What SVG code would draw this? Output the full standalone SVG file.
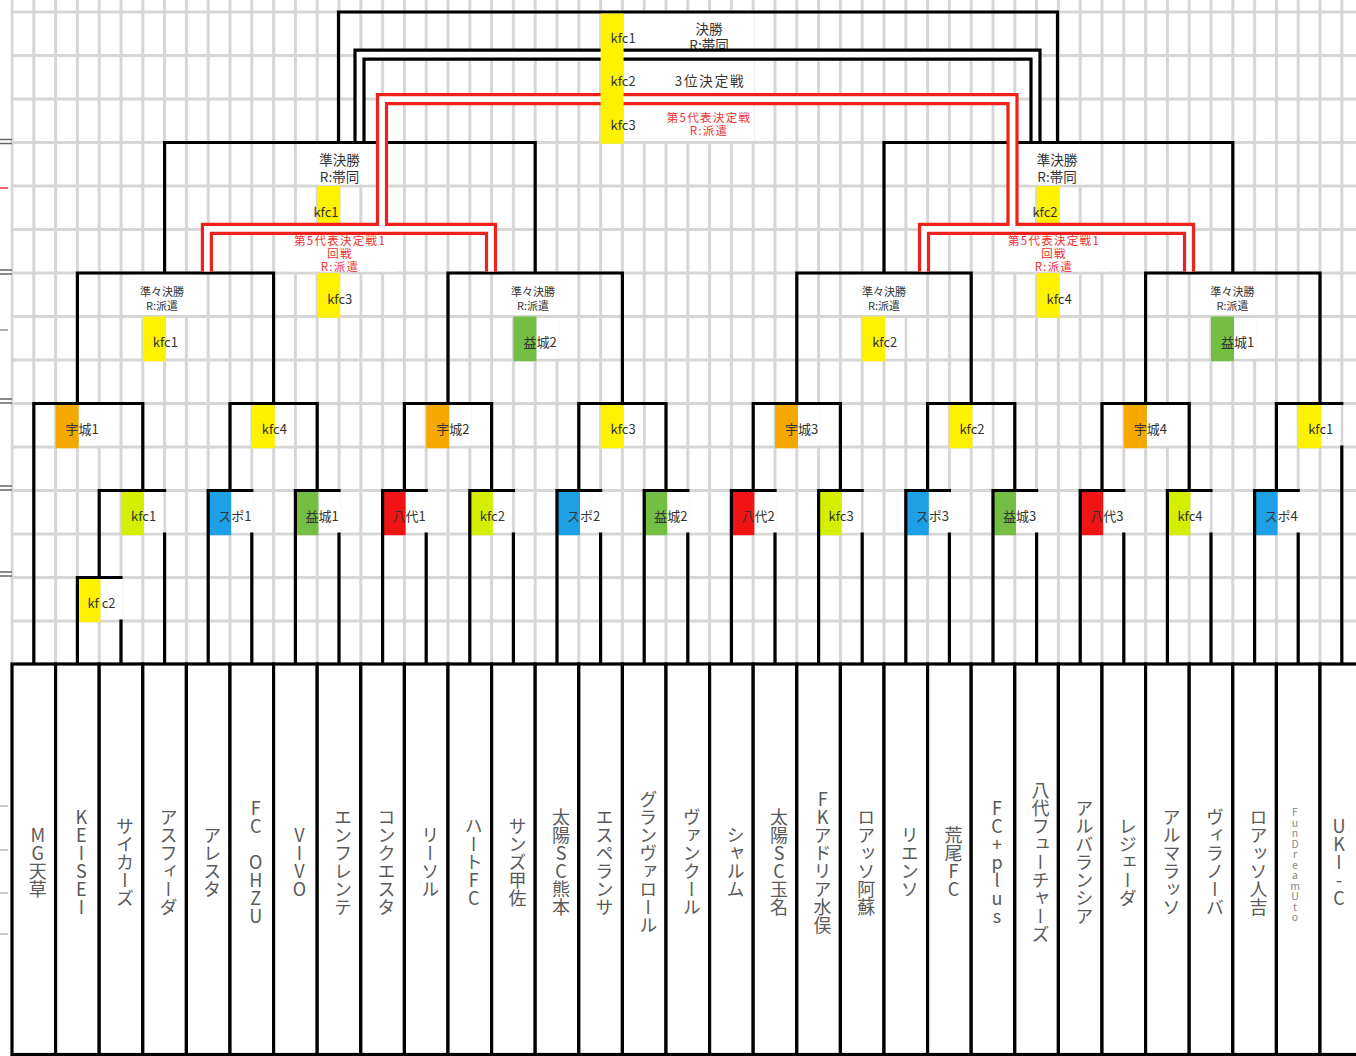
<svg xmlns="http://www.w3.org/2000/svg" width="1356" height="1056" viewBox="0 0 1356 1056">
<defs>
<style>
.bk{fill:none;stroke:#000;stroke-width:3.2;stroke-linecap:square;stroke-linejoin:miter}
.dbk{fill:none;stroke:#000;stroke-width:12.2;stroke-linejoin:miter}
.drd{fill:none;stroke:#f0201a;stroke-width:12.2;stroke-linejoin:miter}
.dwh{fill:none;stroke:#fff;stroke-width:5.8;stroke-linejoin:miter}
.wb{fill:#fff}
.lb{font-family:"Noto Sans CJK JP","Noto Sans",sans-serif;font-size:13px;fill:#333}
.hd{font-family:"Noto Sans CJK JP","Noto Sans",sans-serif;font-size:13.5px;fill:#333;text-anchor:middle}
.qf{font-family:"Noto Sans CJK JP","Noto Sans",sans-serif;font-size:11px;fill:#333;text-anchor:middle}
.rt{font-family:"Noto Sans CJK JP","Noto Sans",sans-serif;font-size:11.5px;fill:#f03030;text-anchor:middle;letter-spacing:1.3px}
.y{fill:#fff200}.lm{fill:#d4f000}.o{fill:#f5a900}.bl{fill:#1ea0e6}.gr{fill:#74bf43}.rb{fill:#f01414}
.tb{fill:#fff;stroke:#000;stroke-width:3.2}
.tn{font-family:"Noto Sans CJK JP","Noto Sans",sans-serif;font-size:18px;fill:#5a5a5a;writing-mode:vertical-rl;text-orientation:upright;text-anchor:middle}
.ts{font-size:10.5px;fill:#888}
</style>
<pattern id="grid" x="10.5" y="10.5" width="21.8" height="43.5" patternUnits="userSpaceOnUse">
<rect width="21.8" height="43.5" fill="#fff"/>
<rect width="3" height="43.5" fill="#d6d6d6"/>
<rect width="21.8" height="3" fill="#d6d6d6"/>
</pattern>
</defs>
<rect width="1356" height="1056" fill="#fff"/>
<rect x="10.5" y="0" width="1346" height="664" fill="url(#grid)"/>

<g id="edge-marks" fill="none" stroke-width="1.5">
<path stroke="#666" d="M0,139.5H12M0,143.5H12M0,270H12M0,274H12M0,399H12M0,403H12M0,486H12M0,490H12M0,572H12M0,576H12"/>
<path stroke="#e33" d="M0,188H8"/>
<path stroke="#999" d="M0,330H8"/>
<path stroke="#bbb" d="M0,806H8M0,850H8M0,893H8M0,934H8"/>
</g>

<g id="label-backgrounds" class="wb">
<rect x="623.9" y="13.5" width="130.5" height="40.5"/>
<rect x="623.9" y="57" width="130.5" height="40.5"/>
<rect x="623.9" y="100.5" width="130.5" height="40.5"/>
<rect x="312" y="144" width="56" height="40.5"/>
<rect x="288" y="231" width="108" height="40.5"/>
<rect x="1029" y="144" width="56" height="40.5"/>
<rect x="1000" y="231" width="108" height="40.5"/>
<rect x="340.5" y="274.5" width="19" height="40.5"/>
<rect x="1059.9" y="274.5" width="19" height="40.5"/>
<rect x="133" y="274.5" width="60" height="40.5"/>
<rect x="503" y="274.5" width="60" height="40.5"/>
<rect x="854" y="274.5" width="60" height="40.5"/>
<rect x="1203" y="274.5" width="60" height="40.5"/>
<rect x="144.3" y="318" width="19" height="40.5"/>
<rect x="536.7" y="318" width="22" height="40.5"/>
<rect x="885.5" y="318" width="19" height="40.5"/>
<rect x="1234.3" y="318" width="22" height="40.5"/>
<rect x="78.9" y="405" width="22" height="40.5"/>
<rect x="275.1" y="405" width="19" height="40.5"/>
<rect x="449.5" y="405" width="22" height="40.5"/>
<rect x="623.9" y="405" width="19" height="40.5"/>
<rect x="798.3" y="405" width="22" height="40.5"/>
<rect x="972.7" y="405" width="19" height="40.5"/>
<rect x="1147.1" y="405" width="22" height="40.5"/>
<rect x="1321.5" y="405" width="19" height="40.5"/>
<rect x="144.3" y="492" width="19" height="40.5"/>
<rect x="231.5" y="492" width="22" height="40.5"/>
<rect x="318.7" y="492" width="22" height="40.5"/>
<rect x="405.9" y="492" width="22" height="40.5"/>
<rect x="493.1" y="492" width="19" height="40.5"/>
<rect x="580.3" y="492" width="22" height="40.5"/>
<rect x="667.5" y="492" width="22" height="40.5"/>
<rect x="754.7" y="492" width="22" height="40.5"/>
<rect x="841.9" y="492" width="19" height="40.5"/>
<rect x="929.1" y="492" width="22" height="40.5"/>
<rect x="1016.3" y="492" width="22" height="40.5"/>
<rect x="1103.5" y="492" width="22" height="40.5"/>
<rect x="1190.7" y="492" width="19" height="40.5"/>
<rect x="1277.9" y="492" width="22" height="40.5"/>
<rect x="100.7" y="579" width="22" height="40.5"/>
</g>

<g id="match-labels">
<g id="final-label"><text class="hd" x="709" y="33.5">決勝</text><text class="hd" x="709" y="50">R:帯同</text></g>
<g id="third-label"><text class="hd" x="710" y="86" style="letter-spacing:1.8px">3位決定戦</text></g>
<g id="fifth-label"><text class="rt" x="709" y="121.5">第5代表決定戦</text><text class="rt" x="709" y="135">R:派遣</text></g>
<g id="sf-left"><text class="hd" x="339.5" y="165">準決勝</text><text class="hd" x="339.5" y="181.5">R:帯同</text>
<rect class="y" x="317.2" y="186" width="23" height="44.7"/><text class="lb" x="326" y="216.7" text-anchor="middle">kfc1</text></g>
<g id="sf-right"><text class="hd" x="1057" y="165">準決勝</text><text class="hd" x="1057" y="181.5">R:帯同</text>
<rect class="y" x="1036.6" y="186" width="23" height="44.7"/><text class="lb" x="1045" y="216.7" text-anchor="middle">kfc2</text></g>
<g id="fifth1-left"><text class="rt" x="340" y="245">第5代表決定戦1</text><text class="rt" x="340" y="258">回戦</text><text class="rt" x="340" y="271">R:派遣</text>
<rect class="y" x="317.2" y="273" width="23" height="44.7"/><text class="lb" x="327.2" y="303.7">kfc3</text></g>
<g id="fifth1-right"><text class="rt" x="1054" y="245">第5代表決定戦1</text><text class="rt" x="1054" y="258">回戦</text><text class="rt" x="1054" y="271">R:派遣</text>
<rect class="y" x="1036.6" y="273" width="23" height="44.7"/><text class="lb" x="1046.6" y="303.7">kfc4</text></g>
<g id="qf1"><text class="qf" x="162" y="296">準々決勝</text><text class="qf" x="162" y="309.5">R:派遣</text><rect class="y" x="142.8" y="316.5" width="23" height="44.7"/><text class="lb" x="152.8" y="347.2">kfc1</text></g>
<g id="qf2"><text class="qf" x="533" y="296">準々決勝</text><text class="qf" x="533" y="309.5">R:派遣</text><rect class="gr" x="513.4" y="316.5" width="23" height="44.7"/><text class="lb" x="523.4" y="347.2">益城2</text></g>
<g id="qf3"><text class="qf" x="884" y="296">準々決勝</text><text class="qf" x="884" y="309.5">R:派遣</text><rect class="y" x="862.2" y="316.5" width="23" height="44.7"/><text class="lb" x="872.2" y="347.2">kfc2</text></g>
<g id="qf4"><text class="qf" x="1232.5" y="296">準々決勝</text><text class="qf" x="1232.5" y="309.5">R:派遣</text><rect class="gr" x="1211" y="316.5" width="23" height="44.7"/><text class="lb" x="1221" y="347.2">益城1</text></g>
<g id="r16-1"><rect class="o" x="55.6" y="403.5" width="23" height="44.7"/><text class="lb" x="65.6" y="434.2">宇城1</text></g>
<g id="r16-2"><rect class="y" x="251.8" y="403.5" width="23" height="44.7"/><text class="lb" x="261.8" y="434.2">kfc4</text></g>
<g id="r16-3"><rect class="o" x="426.2" y="403.5" width="23" height="44.7"/><text class="lb" x="436.2" y="434.2">宇城2</text></g>
<g id="r16-4"><rect class="y" x="600.6" y="403.5" width="23" height="44.7"/><text class="lb" x="610.6" y="434.2">kfc3</text></g>
<g id="r16-5"><rect class="o" x="775" y="403.5" width="23" height="44.7"/><text class="lb" x="785" y="434.2">宇城3</text></g>
<g id="r16-6"><rect class="y" x="949.4" y="403.5" width="23" height="44.7"/><text class="lb" x="959.4" y="434.2">kfc2</text></g>
<g id="r16-7"><rect class="o" x="1123.8" y="403.5" width="23" height="44.7"/><text class="lb" x="1133.8" y="434.2">宇城4</text></g>
<g id="r16-8"><rect class="y" x="1298.2" y="403.5" width="23" height="44.7"/><text class="lb" x="1308.2" y="434.2">kfc1</text></g>
<g id="r32-1"><rect class="lm" x="121" y="490.5" width="23" height="44.7"/><text class="lb" x="131" y="521.2">kfc1</text></g>
<g id="r32-2"><rect class="bl" x="208.2" y="490.5" width="23" height="44.7"/><text class="lb" x="218.2" y="521.2">スポ1</text></g>
<g id="r32-3"><rect class="gr" x="295.4" y="490.5" width="23" height="44.7"/><text class="lb" x="305.4" y="521.2">益城1</text></g>
<g id="r32-4"><rect class="rb" x="382.6" y="490.5" width="23" height="44.7"/><text class="lb" x="392.6" y="521.2">八代1</text></g>
<g id="r32-5"><rect class="lm" x="469.8" y="490.5" width="23" height="44.7"/><text class="lb" x="479.8" y="521.2">kfc2</text></g>
<g id="r32-6"><rect class="bl" x="557" y="490.5" width="23" height="44.7"/><text class="lb" x="567" y="521.2">スポ2</text></g>
<g id="r32-7"><rect class="gr" x="644.2" y="490.5" width="23" height="44.7"/><text class="lb" x="654.2" y="521.2">益城2</text></g>
<g id="r32-8"><rect class="rb" x="731.4" y="490.5" width="23" height="44.7"/><text class="lb" x="741.4" y="521.2">八代2</text></g>
<g id="r32-9"><rect class="lm" x="818.6" y="490.5" width="23" height="44.7"/><text class="lb" x="828.6" y="521.2">kfc3</text></g>
<g id="r32-10"><rect class="bl" x="905.8" y="490.5" width="23" height="44.7"/><text class="lb" x="915.8" y="521.2">スポ3</text></g>
<g id="r32-11"><rect class="gr" x="993" y="490.5" width="23" height="44.7"/><text class="lb" x="1003" y="521.2">益城3</text></g>
<g id="r32-12"><rect class="rb" x="1080.2" y="490.5" width="23" height="44.7"/><text class="lb" x="1090.2" y="521.2">八代3</text></g>
<g id="r32-13"><rect class="lm" x="1167.4" y="490.5" width="23" height="44.7"/><text class="lb" x="1177.4" y="521.2">kfc4</text></g>
<g id="r32-14"><rect class="bl" x="1254.6" y="490.5" width="23" height="44.7"/><text class="lb" x="1264.6" y="521.2">スポ4</text></g>
<g id="prelim-1"><rect class="y" x="77.4" y="577.5" width="23" height="44.7"/><text class="lb" x="87.4" y="608.2">kf c2</text></g>
</g>

<g id="connectors">
<path class="bk" d="M338.5,142.5V12H1057.5V142.5M164.6,142.5H535.2M884,142.5H1232.8M164.6,142.5V273M535.2,142.5V273M884,142.5V273M1232.8,142.5V273M77.4,273H273.6M448,273H622.4M796.8,273H971.2M1145.6,273H1320M77.4,273V403.5M273.6,273V403.5M448,273V403.5M622.4,273V403.5M796.8,273V403.5M971.2,273V403.5M1145.6,273V403.5M1320,273V403.5M33.8,403.5H142.8M230,403.5H317.2M404.4,403.5H491.6M578.8,403.5H666M753.2,403.5H840.4M927.6,403.5H1014.8M1102,403.5H1189.2M1276.4,403.5H1341.8M142.8,403.5V490.5M230,403.5V490.5M317.2,403.5V490.5M404.4,403.5V490.5M491.6,403.5V490.5M578.8,403.5V490.5M666,403.5V490.5M753.2,403.5V490.5M840.4,403.5V490.5M927.6,403.5V490.5M1014.8,403.5V490.5M1102,403.5V490.5M1189.2,403.5V490.5M1276.4,403.5V490.5M99.2,490.5H164.6M208.2,490.5H251.8M295.4,490.5H339M382.6,490.5H426.2M469.8,490.5H513.4M557,490.5H600.6M644.2,490.5H687.8M731.4,490.5H775M818.6,490.5H862.2M905.8,490.5H949.4M993,490.5H1036.6M1080.2,490.5H1123.8M1167.4,490.5H1211M1254.6,490.5H1298.2M99.2,490.5V577.5M77.4,577.5H121M33.8,403.5V664M77.4,577.5V664M121,621V664M164.6,534V664M208.2,490.5V664M251.8,534V664M295.4,490.5V664M339,534V664M382.6,490.5V664M426.2,534V664M469.8,490.5V664M513.4,534V664M557,490.5V664M600.6,534V664M644.2,490.5V664M687.8,534V664M731.4,490.5V664M775,534V664M818.6,490.5V664M862.2,534V664M905.8,490.5V664M949.4,534V664M993,490.5V664M1036.6,534V664M1080.2,490.5V664M1123.8,534V664M1167.4,490.5V664M1211,534V664M1254.6,490.5V664M1298.2,534V664M1341.8,447V664"/>
<path class="dbk" d="M359.5,140.9V54.6H1035.5V140.9"/>
<path class="dwh" d="M359.5,140.9V54.6H1035.5V140.9"/>
<path class="drd" d="M206.9,271.4V228.8H382V99.2H1012.5V228.8H1189V271.4M382,228.8H491V271.4M1012.5,228.8H924V271.4"/>
<path class="dwh" d="M206.9,271.4V228.8H382V99.2H1012.5V228.8H1189V271.4M382,228.8H491V271.4M1012.5,228.8H924V271.4"/>
</g>

<g id="top-strip">
<rect class="y" x="600.6" y="13.6" width="23" height="130.1"/>
<text class="lb" x="610.6" y="42.7">kfc1</text>
<text class="lb" x="610.6" y="86.2">kfc2</text>
<text class="lb" x="610.6" y="129.7">kfc3</text>
</g>

<g id="teams">
<g id="team-0"><rect class="tb" x="12" y="664" width="43.6" height="390.5"/><text class="tn" x="37.8" y="862">MG天草</text></g>
<g id="team-1"><rect class="tb" x="55.6" y="664" width="43.6" height="390.5"/><text class="tn" x="81.4" y="862">KEISEI</text></g>
<g id="team-2"><rect class="tb" x="99.2" y="664" width="43.6" height="390.5"/><text class="tn" x="125" y="862">サイカーズ</text></g>
<g id="team-3"><rect class="tb" x="142.8" y="664" width="43.6" height="390.5"/><text class="tn" x="168.6" y="862">アスフィーダ</text></g>
<g id="team-4"><rect class="tb" x="186.4" y="664" width="43.6" height="390.5"/><text class="tn" x="212.2" y="862">アレスタ</text></g>
<g id="team-5"><rect class="tb" x="230" y="664" width="43.6" height="390.5"/><text class="tn" x="255.8" y="862">FC OHZU</text></g>
<g id="team-6"><rect class="tb" x="273.6" y="664" width="43.6" height="390.5"/><text class="tn" x="299.4" y="862">VIVO</text></g>
<g id="team-7"><rect class="tb" x="317.2" y="664" width="43.6" height="390.5"/><text class="tn" x="343" y="862">エンフレンテ</text></g>
<g id="team-8"><rect class="tb" x="360.8" y="664" width="43.6" height="390.5"/><text class="tn" x="386.6" y="862">コンクエスタ</text></g>
<g id="team-9"><rect class="tb" x="404.4" y="664" width="43.6" height="390.5"/><text class="tn" x="430.2" y="862">リーソル</text></g>
<g id="team-10"><rect class="tb" x="448" y="664" width="43.6" height="390.5"/><text class="tn" x="473.8" y="862">ハートFC</text></g>
<g id="team-11"><rect class="tb" x="491.6" y="664" width="43.6" height="390.5"/><text class="tn" x="517.4" y="862">サンズ甲佐</text></g>
<g id="team-12"><rect class="tb" x="535.2" y="664" width="43.6" height="390.5"/><text class="tn" x="561" y="862">太陽SC熊本</text></g>
<g id="team-13"><rect class="tb" x="578.8" y="664" width="43.6" height="390.5"/><text class="tn" x="604.6" y="862">エスペランサ</text></g>
<g id="team-14"><rect class="tb" x="622.4" y="664" width="43.6" height="390.5"/><text class="tn" x="648.2" y="862">グランヴァロール</text></g>
<g id="team-15"><rect class="tb" x="666" y="664" width="43.6" height="390.5"/><text class="tn" x="691.8" y="862">ヴァンクール</text></g>
<g id="team-16"><rect class="tb" x="709.6" y="664" width="43.6" height="390.5"/><text class="tn" x="735.4" y="862">シャルム</text></g>
<g id="team-17"><rect class="tb" x="753.2" y="664" width="43.6" height="390.5"/><text class="tn" x="779" y="862">太陽SC玉名</text></g>
<g id="team-18"><rect class="tb" x="796.8" y="664" width="43.6" height="390.5"/><text class="tn" x="822.6" y="862">FKアドリア水俣</text></g>
<g id="team-19"><rect class="tb" x="840.4" y="664" width="43.6" height="390.5"/><text class="tn" x="866.2" y="862">ロアッソ阿蘇</text></g>
<g id="team-20"><rect class="tb" x="884" y="664" width="43.6" height="390.5"/><text class="tn" x="909.8" y="862">リエンソ</text></g>
<g id="team-21"><rect class="tb" x="927.6" y="664" width="43.6" height="390.5"/><text class="tn" x="953.4" y="862">荒尾FC</text></g>
<g id="team-22"><rect class="tb" x="971.2" y="664" width="43.6" height="390.5"/><text class="tn" x="997" y="862">FC+plus</text></g>
<g id="team-23"><rect class="tb" x="1014.8" y="664" width="43.6" height="390.5"/><text class="tn" x="1040.6" y="862">八代フューチャーズ</text></g>
<g id="team-24"><rect class="tb" x="1058.4" y="664" width="43.6" height="390.5"/><text class="tn" x="1084.2" y="862">アルバランシア</text></g>
<g id="team-25"><rect class="tb" x="1102" y="664" width="43.6" height="390.5"/><text class="tn" x="1127.8" y="862">レジェーダ</text></g>
<g id="team-26"><rect class="tb" x="1145.6" y="664" width="43.6" height="390.5"/><text class="tn" x="1171.4" y="862">アルマラッソ</text></g>
<g id="team-27"><rect class="tb" x="1189.2" y="664" width="43.6" height="390.5"/><text class="tn" x="1215" y="862">ヴィラノーバ</text></g>
<g id="team-28"><rect class="tb" x="1232.8" y="664" width="43.6" height="390.5"/><text class="tn" x="1258.6" y="862">ロアッソ人吉</text></g>
<g id="team-29"><rect class="tb" x="1276.4" y="664" width="43.6" height="390.5"/><text class="tn ts" x="1295" y="865">FunDreamUto</text></g>
<g id="team-30"><rect class="tb" x="1320" y="664" width="50" height="390.5"/><text class="tn" x="1339" y="862">UKI-C</text></g>
</g>
</svg>
